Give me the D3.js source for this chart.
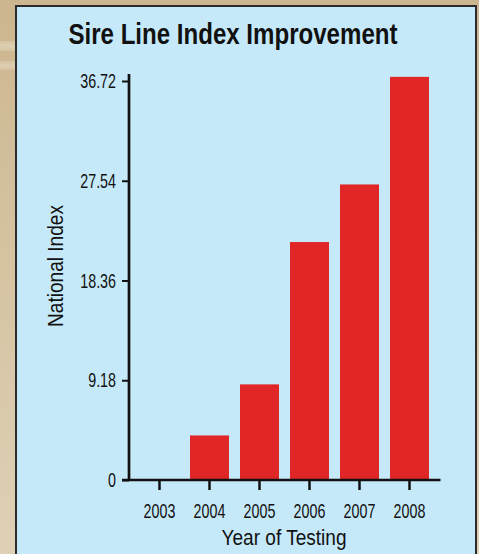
<!DOCTYPE html>
<html>
<head>
<meta charset="utf-8">
<script src="https://cdn.jsdelivr.net/npm/d3@7"></script>
<style>
  body { margin: 0; background: #cfba95; }
  svg { display: block; }
  .axis text { fill: #111; }
</style>
</head>
<body>
<script>
// Sire line index chart

var years = ["2003", "2004", "2005", "2006", "2007", "2008"];
var index = [0, 4.1, 8.8, 21.9, 27.2, 37.1];
var yTicks = [0, 9.18, 18.36, 27.54, 36.72];

var data = years.map(function (y, i) { return { year: y, value: index[i] }; });

var W = 479, H = 554;
// no condensed face installed, so Arial-metric text squeezed with textLength
var face = "'Liberation Sans', Arial, sans-serif";

var svg = d3.select("body").append("svg")
    .attr("width", W)
    .attr("height", H);

// squeeze a text node to a share of its natural width
function squeeze(sel, k) {
    sel.each(function () {
        var w = this.getComputedTextLength();
        d3.select(this)
            .attr("textLength", w * k)
            .attr("lengthAdjust", "spacingAndGlyphs");
    });
}

// tan backdrop with a soft vertical fade
var defs = svg.append("defs");
var grad = defs.append("linearGradient")
    .attr("id", "tan")
    .attr("x1", 0).attr("y1", 0).attr("x2", 0).attr("y2", 1);
grad.append("stop").attr("offset", "0%").attr("stop-color", "#ccb68f");
grad.append("stop").attr("offset", "100%").attr("stop-color", "#dfd1b6");
defs.append("filter").attr("id", "blur")
    .append("feGaussianBlur").attr("stdDeviation", 3);

svg.append("rect")
    .attr("width", W).attr("height", H)
    .attr("fill", "url(#tan)");

// a couple of light streaks on the left edge
[[42, 8], [62, 7]].forEach(function (s) {
    svg.append("rect")
        .attr("x", -10).attr("y", s[0])
        .attr("width", 30).attr("height", s[1])
        .attr("fill", "#eadfc8")
        .attr("opacity", 0.7)
        .attr("filter", "url(#blur)");
});

// light blue panel
svg.append("rect")
    .attr("x", 16).attr("y", 6)
    .attr("width", 460).attr("height", 570)
    .attr("fill", "#c6e9f9")
    .attr("stroke", "#2b2b2b")
    .attr("stroke-width", 2);

// scales
var y = d3.scaleLinear()
    .domain([0, 36.72])
    .range([480, 81]);

var x = d3.scaleBand()
    .domain(years)
    .range([134.5, 434.5])
    .paddingInner(0.22)
    .paddingOuter(0.11);

// bars
svg.selectAll(".bar")
    .data(data)
    .enter().append("rect")
    .attr("class", "bar")
    .attr("x", function (d) { return x(d.year); })
    .attr("y", function (d) { return y(d.value); })
    .attr("width", x.bandwidth())
    .attr("height", function (d) { return y(0) - y(d.value); })
    .attr("fill", "#e12628");

// y axis
var yAxis = d3.axisLeft(y)
    .tickValues(yTicks)
    .tickFormat(function (d) { return d === 0 ? "0" : d3.format(".2f")(d); })
    .tickSize(7)
    .tickPadding(6);

var yG = svg.append("g")
    .attr("class", "axis y")
    .attr("transform", "translate(129,0)")
    .call(yAxis);
yG.select(".domain").remove();
yG.selectAll(".tick line").attr("stroke", "#111").attr("stroke-width", 2);
yG.selectAll("text")
    .attr("font-family", face)
    .attr("font-size", 21);

// x axis
var xAxis = d3.axisBottom(x)
    .tickSize(10)
    .tickPadding(13);

var xG = svg.append("g")
    .attr("class", "axis x")
    .attr("transform", "translate(0," + y(0) + ")")
    .call(xAxis);
xG.select(".domain").remove();
xG.selectAll(".tick line").attr("stroke", "#111").attr("stroke-width", 2.5);
xG.selectAll("text")
    .attr("font-family", face)
    .attr("font-size", 21);

squeeze(svg.selectAll(".axis text"), 0.68);

// axis lines drawn on top of the bars
svg.append("line")
    .attr("x1", 129).attr("x2", 129)
    .attr("y1", y(0) + 1).attr("y2", y.range()[1] - 7)
    .attr("stroke", "#111").attr("stroke-width", 2.7);

svg.append("line")
    .attr("x1", 122).attr("x2", x.range()[1] + 6)
    .attr("y1", y(0)).attr("y2", y(0))
    .attr("stroke", "#111").attr("stroke-width", 2.5);

// title
svg.append("text")
    .attr("x", 233)
    .attr("y", 44)
    .attr("text-anchor", "middle")
    .attr("font-family", face)
    .attr("font-weight", "bold")
    .attr("font-size", 29)
    .attr("fill", "#111")
    .attr("textLength", 329)
    .attr("lengthAdjust", "spacingAndGlyphs")
    .text("Sire Line Index Improvement");

// axis titles
svg.append("text")
    .attr("transform", "translate(63,266) rotate(-90)")
    .attr("text-anchor", "middle")
    .attr("font-family", face)
    .attr("font-size", 22)
    .attr("fill", "#111")
    .attr("textLength", 122)
    .attr("lengthAdjust", "spacingAndGlyphs")
    .text("National Index");

svg.append("text")
    .attr("x", 284)
    .attr("y", 545)
    .attr("text-anchor", "middle")
    .attr("font-family", face)
    .attr("font-size", 22)
    .attr("fill", "#111")
    .attr("textLength", 125)
    .attr("lengthAdjust", "spacingAndGlyphs")
    .text("Year of Testing");
</script>
</body>
</html>
